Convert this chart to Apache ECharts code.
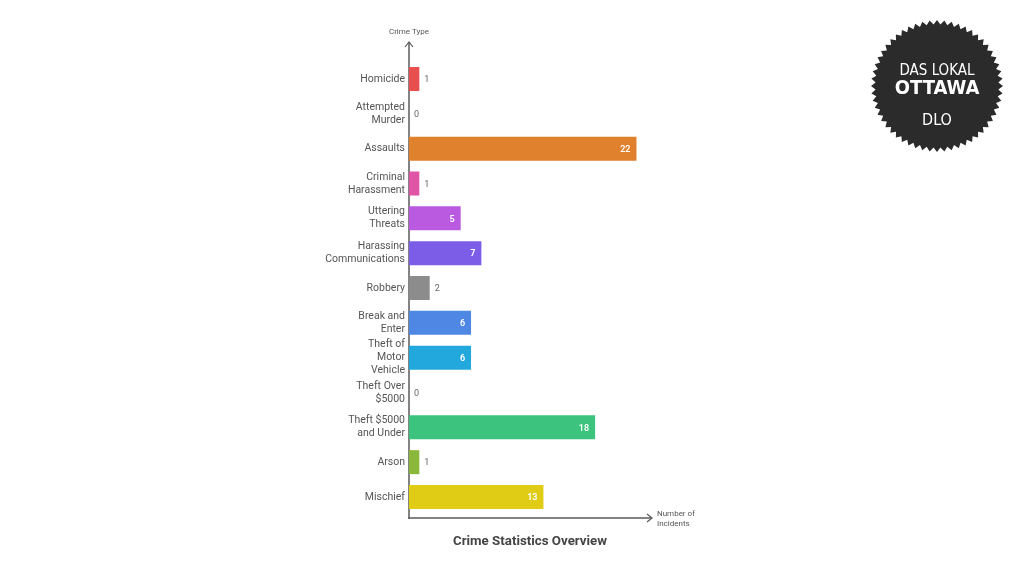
<!DOCTYPE html>
<html>
<head>
<meta charset="utf-8">
<script src="https://cdn.jsdelivr.net/npm/echarts@6/dist/echarts.min.js"></script>
<style>
  html, body { margin: 0; padding: 0; background: #fff; }
  #main { width: 1024px; height: 576px; }
</style>
</head>
<body>
<div id="main"></div>
<script>
// chart data
const categories = ['Homicide', 'Attempted\nMurder', 'Assaults', 'Criminal\nHarassment', 'Uttering\nThreats',
    'Harassing\nCommunications', 'Robbery', 'Break and\nEnter', 'Theft of\nMotor\nVehicle', 'Theft Over\n$5000',
    'Theft $5000\nand Under', 'Arson', 'Mischief'];
const incidents = [1, 0, 22, 1, 5, 7, 2, 6, 6, 0, 18, 1, 13];
const barColors = ['#e8504f', '#999999', '#e0812e', '#e055a5', '#b95ae0', '#7b5de8', '#8c8c8c',
    '#4e87e4', '#22a8dc', '#999999', '#3cc47e', '#8bb83a', '#e0cc15'];

var chartDom = document.getElementById('main');
var myChart = echarts.init(chartDom);

// bars with the label inside when there is room for it
let barData = incidents.map((v, i) => {
    let inside = v >= 5
    return {
        value: v,
        itemStyle: {color: barColors[i]},
        label: inside
            ? {position: 'insideRight', color: '#fff', fontWeight: 600, distance: 6, offset: [0, 1]}
            : {position: 'right', color: '#666', distance: 5, offset: [0, 1]}
    }
})

// serrated badge outline for the logo
function badgePoints(cx, cy, rOut, rIn, teeth) {
    let pts = []
    for (let i = 0; i < teeth * 2; i++) {
        let r = i % 2 == 0 ? rOut : rIn
        let a = Math.PI * i / teeth - Math.PI / 2
        pts.push([cx + r * Math.cos(a), cy + r * Math.sin(a)])
    }
    return pts
}

var axisColor = '#5a5a5a'

var option = {
    textStyle: {fontFamily: 'Roboto'},
    grid: {left: 409, right: 372, top: 61.6, bottom: 61.6},
    xAxis: {
        type: 'value',
        min: 0,
        max: 23.5,
        show: false
    },
    yAxis: {
        type: 'category',
        inverse: true,
        data: categories,
        axisLine: {show: false},
        axisTick: {show: false},
        axisLabel: {fontSize: 10.5, color: '#555', lineHeight: 13, margin: 4}
    },
    series: [{
        type: 'bar',
        data: barData,
        barWidth: 24,
        label: {show: true, fontSize: 9},
        animation: false
    }],
    graphic: [
        // y axis with arrow
        {type: 'line', shape: {x1: 409, y1: 519, x2: 409, y2: 42}, style: {stroke: axisColor, lineWidth: 1.5}},
        {type: 'polyline', shape: {points: [[405, 47], [409, 42], [413, 47]]}, style: {stroke: axisColor, lineWidth: 1.2, fill: null}},
        // x axis with arrow
        {type: 'line', shape: {x1: 408.3, y1: 518, x2: 652, y2: 518}, style: {stroke: axisColor, lineWidth: 1.5}},
        {type: 'polyline', shape: {points: [[647, 514], [652, 518], [647, 522]]}, style: {stroke: axisColor, lineWidth: 1.2, fill: null}},
        {type: 'text', x: 409, y: 31.5, style: {text: 'Crime Type', fontSize: 8, fill: '#555', align: 'center', verticalAlign: 'middle', fontFamily: 'Roboto'}},
        {type: 'text', x: 657, y: 519, style: {text: 'Number of\nIncidents', fontSize: 8, fill: '#555', align: 'left', verticalAlign: 'middle', lineHeight: 10, fontFamily: 'Roboto'}},
        {type: 'text', x: 530, y: 542, style: {text: 'Crime Statistics Overview', fontSize: 13.3, fontWeight: 'bold', fill: '#444', align: 'center', verticalAlign: 'middle', fontFamily: 'Roboto'}},
        // logo
        {type: 'polygon', shape: {points: badgePoints(937, 86, 66, 61.5, 56)}, style: {fill: '#2b2b2b'}},
        {type: 'text', x: 937, y: 71, style: {text: 'DAS LOKAL', fontSize: 15, fill: '#fff', align: 'center', verticalAlign: 'middle', fontFamily: 'DejaVu Sans Condensed'}},
        {type: 'text', x: 937, y: 89, style: {text: 'OTTAWA', fontSize: 20, fontWeight: 'bold', fill: '#fff', align: 'center', verticalAlign: 'middle', fontFamily: 'DejaVu Sans Condensed'}},
        {type: 'text', x: 937, y: 121, style: {text: 'DLO', fontSize: 16, fill: '#fff', align: 'center', verticalAlign: 'middle', fontFamily: 'DejaVu Sans Condensed'}}
    ]
};
option && myChart.setOption(option);
</script>
</body>
</html>
